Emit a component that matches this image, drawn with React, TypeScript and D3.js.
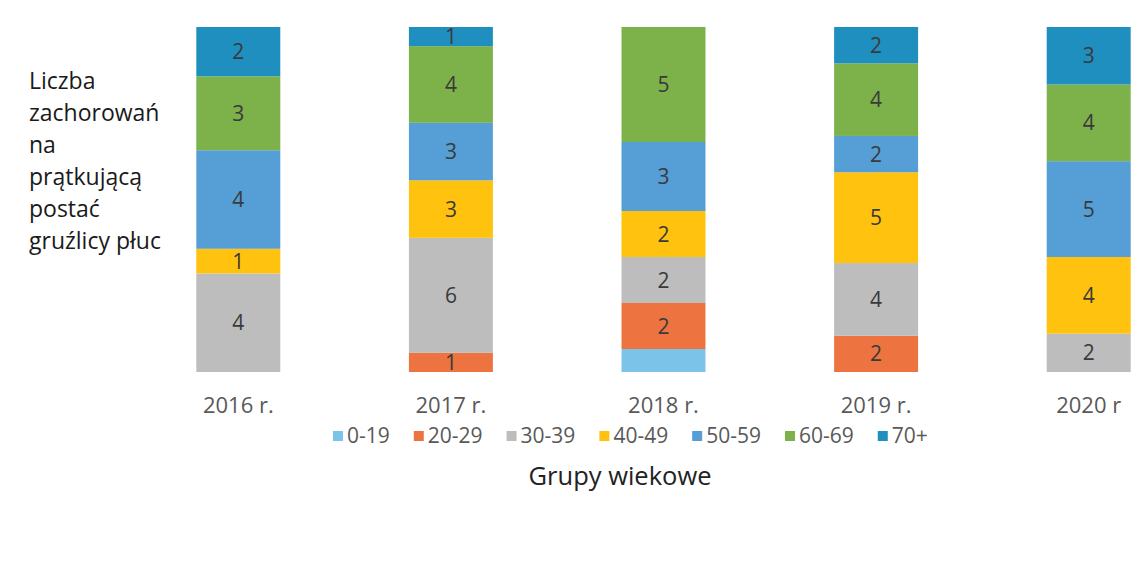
import React, { useRef, useEffect } from "react";
import * as d3 from "d3";

const years = ["2016 r.", "2017 r.", "2018 r.", "2019 r.", "2020 r"];
const groups = ["0-19", "20-29", "30-39", "40-49", "50-59", "60-69", "70+"];
const colors = ["#7cc3ea", "#ed7440", "#bdbdbd", "#ffc20e", "#559fd6", "#7db14a", "#1f8fc0"];

// cases per age group, one value per year
const g0_19 = [0, 0, 1, 0, 0];
const g20_29 = [0, 1, 2, 2, 0];
const g30_39 = [4, 6, 2, 4, 2];
const g40_49 = [1, 3, 2, 5, 4];
const g50_59 = [4, 3, 3, 2, 5];
const g60_69 = [3, 4, 5, 4, 4];
const g70 = [2, 1, 0, 2, 3];

// data labels removed in the original
const hiddenLabels = [["2018 r.", "0-19"]];

const yTitle = ["Liczba", "zachorowań", "na", "prątkującą", "postać", "gruźlicy płuc"];
const xTitle = "Grupy wiekowe";

const font = "'Open Sans', 'Noto Sans', sans-serif";

const App = () => {
  const ref = useRef<SVGSVGElement>(null);

  useEffect(() => {
    const svg = d3.select(ref.current);
    svg.selectAll("*").remove();

    const width = 1145;
    const height = 567;
    svg.attr("width", width).attr("height", height);

    const series = [g0_19, g20_29, g30_39, g40_49, g50_59, g60_69, g70];
    const rows = years.map((y, i) => {
      const r: any = { year: y };
      groups.forEach((g, j) => (r[g] = series[j][i]));
      return r;
    });

    // 100% stacked
    const stacked = d3.stack().keys(groups).offset(d3.stackOffsetExpand)(rows);

    const x = d3
      .scaleBand()
      .domain(years)
      .range([132, 1195])
      .paddingInner(0.605)
      .paddingOuter(0.3025);

    const y = d3.scaleLinear().domain([0, 1]).range([372, 27]);
    const color = d3.scaleOrdinal<string>().domain(groups).range(colors);

    const layers = svg
      .append("g")
      .selectAll("g")
      .data(stacked)
      .join("g")
      .attr("fill", (d) => color(d.key));

    layers
      .selectAll("rect")
      .data((d) => d.filter((s) => s[1] - s[0] > 0))
      .join("rect")
      .attr("x", (d: any) => x(d.data.year))
      .attr("y", (d) => y(d[1]))
      .attr("width", x.bandwidth())
      .attr("height", (d) => y(d[0]) - y(d[1]));

    // segment labels
    layers
      .selectAll("text")
      .data((d) =>
        d
          .map((s: any) => ({ s, key: d.key }))
          .filter(
            ({ s, key }) =>
              s[1] - s[0] > 0 &&
              !hiddenLabels.some((h) => h[0] === s.data.year && h[1] === key)
          )
      )
      .join("text")
      .attr("x", ({ s }: any) => x(s.data.year)! + x.bandwidth() / 2)
      .attr("y", ({ s }: any) => (y(s[0]) + y(s[1])) / 2)
      .attr("dy", "0.36em")
      .attr("text-anchor", "middle")
      .attr("font-family", font)
      .attr("font-size", 21)
      .attr("fill", "#3a3a3a")
      .text(({ s, key }: any) => s.data[key]);

    // x axis labels
    const xAxis = svg
      .append("g")
      .attr("transform", `translate(0,413)`)
      .call(d3.axisBottom(x).tickSize(0).tickPadding(0));
    xAxis.select(".domain").remove();
    xAxis
      .selectAll("text")
      .attr("font-family", font)
      .attr("font-size", 22)
      .attr("fill", "#595959")
      .attr("dy", 0);

    // y title
    svg
      .append("text")
      .attr("font-family", font)
      .attr("font-size", 23)
      .attr("fill", "#1a1a1a")
      .selectAll("tspan")
      .data(yTitle)
      .join("tspan")
      .attr("x", 29)
      .attr("y", (d, i) => 89 + i * 32)
      .text((d) => d);

    // legend
    const legend = svg.append("g").attr("transform", "translate(333,0)");
    let lx = 0;
    groups.forEach((g) => {
      const item = legend.append("g").attr("transform", `translate(${lx},0)`);
      item
        .append("rect")
        .attr("x", 0)
        .attr("y", 431)
        .attr("width", 10)
        .attr("height", 10)
        .attr("fill", color(g));
      const t = item
        .append("text")
        .attr("x", 14)
        .attr("y", 443)
        .attr("font-family", font)
        .attr("font-size", 21)
        .attr("fill", "#595959")
        .text(g);
      lx += 14 + (t.node() as SVGTextElement).getComputedTextLength() + 24;
    });

    svg
      .append("text")
      .attr("x", 620)
      .attr("y", 485)
      .attr("text-anchor", "middle")
      .attr("font-family", font)
      .attr("font-size", 25.5)
      .attr("fill", "#222")
      .text(xTitle);
  }, []);

  return (
    <svg
      ref={ref}
      style={{ position: "absolute", left: 0, top: 0, background: "#fff" }}
    ></svg>
  );
};

export default App;
